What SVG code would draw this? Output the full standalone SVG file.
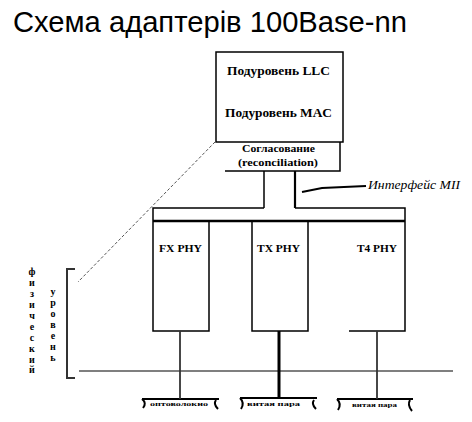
<svg xmlns="http://www.w3.org/2000/svg" width="472" height="422" viewBox="0 0 472 422">
<style>
.ln{fill:none;stroke:#000;stroke-width:1.5}
.b{font-family:"Liberation Serif","DejaVu Serif",serif;font-weight:bold;fill:#000}
.t{font-family:"Liberation Sans",Arial,sans-serif;fill:#000}
.ban{fill:none;stroke:#000;stroke-width:2}
</style>
<rect width="472" height="422" fill="#fff"/>
<text class="t" x="13" y="32" font-size="29" textLength="394" lengthAdjust="spacingAndGlyphs">Схема адаптерів 100Base-nn</text>

<g id="llc-mac">
<rect class="ln" x="216" y="52" width="127" height="90"/>
<text class="b" x="227" y="75" font-size="12" textLength="103" lengthAdjust="spacingAndGlyphs">Подуровень LLC</text>
<text class="b" x="225" y="117" font-size="12" textLength="107" lengthAdjust="spacingAndGlyphs">Подуровень MAC</text>
</g>
<g id="reconciliation">
<path class="ln" d="M340,142 V171 H225"/>
<text class="b" x="242" y="152" font-size="10" textLength="73" lengthAdjust="spacingAndGlyphs">Согласование</text>
<text class="b" x="238" y="166" font-size="10" textLength="80" lengthAdjust="spacingAndGlyphs">(reconciliation)</text>
</g>
<g id="mii">
<text x="368" y="189" font-family="Liberation Serif,serif" font-style="italic" font-size="12" textLength="92" lengthAdjust="spacingAndGlyphs">Интерфейс МІІ</text>
</g>
<g id="bus">
<path class="ln" d="M264,208 H153 V221 M295,208 H405 V221"/>
<line x1="153" y1="221" x2="405" y2="221" stroke="#000" stroke-width="2.5"/>
</g>
<g id="fx-phy">
<path class="ln" d="M153,221 V331 H209 V221"/>
<text class="b" x="159" y="252" font-size="11" textLength="43" lengthAdjust="spacingAndGlyphs">FX PHY</text>
</g>
<g id="tx-phy">
<path class="ln" d="M252,221 V331 H308 V221"/>
<text class="b" x="257" y="252" font-size="11" textLength="43" lengthAdjust="spacingAndGlyphs">TX PHY</text>
</g>
<g id="t4-phy">
<path class="ln" d="M405,221 V331 H349"/>
<text class="b" x="357" y="252" font-size="11" textLength="40" lengthAdjust="spacingAndGlyphs">T4 PHY</text>
</g>
<g id="physical-level">
<path d="M75,269 H67 V378 H75" fill="none" stroke="#333" stroke-width="2"/>
<text class="b" font-size="10" text-anchor="middle">
<tspan x="32" y="275">ф</tspan><tspan x="32" y="286">и</tspan><tspan x="32" y="297">з</tspan><tspan x="32" y="308">и</tspan><tspan x="32" y="319">ч</tspan><tspan x="32" y="330">е</tspan><tspan x="32" y="341">с</tspan><tspan x="32" y="352">к</tspan><tspan x="32" y="363">и</tspan><tspan x="32" y="373">й</tspan>
</text>
<text class="b" font-size="10" text-anchor="middle">
<tspan x="53" y="295">у</tspan><tspan x="53" y="306">р</tspan><tspan x="53" y="317">о</tspan><tspan x="53" y="328">в</tspan><tspan x="53" y="339">е</tspan><tspan x="53" y="350">н</tspan><tspan x="53" y="361">ь</tspan>
</text>
</g>
<g id="media-fiber">
<path class="ban" d="M142,399 H219 M142,399 Q147,403 143,408 M216,400 Q213,404 218,409"/>
<text class="b" x="150" y="406" font-size="7" textLength="58" lengthAdjust="spacingAndGlyphs">оптоволокно</text>
</g>
<g id="media-tp1">
<path class="ban" d="M240,398 H317 M240,398 Q245,403 241,409 M314,400 Q311,404 316,409"/>
<text class="b" x="247" y="406" font-size="7" textLength="53" lengthAdjust="spacingAndGlyphs">витая пара</text>
</g>
<g id="media-tp2">
<path class="ban" d="M337,399 H413 M337,399 Q342,404 338,410 M410,400 Q407,405 412,411"/>
<text class="b" x="352" y="407" font-size="7" textLength="45" lengthAdjust="spacingAndGlyphs">витая пара</text>
</g>
<g id="connectors">
<line x1="264" y1="171" x2="264" y2="208" stroke="#000" stroke-width="1.5"/>
<line x1="295" y1="171" x2="295" y2="208" stroke="#000" stroke-width="2.2"/>
<path d="M302,192 L322,188 L366,186" fill="none" stroke="#000" stroke-width="2"/>
<line x1="215" y1="142" x2="78" y2="282" stroke="#555" stroke-width="1" stroke-dasharray="3,2"/>
<line x1="79" y1="371" x2="453" y2="371" stroke="#000" stroke-width="1.2"/>
<line x1="180" y1="331" x2="180" y2="399" stroke="#333" stroke-width="1.8"/>
<line x1="279" y1="331" x2="279" y2="398" stroke="#000" stroke-width="3"/>
<line x1="377" y1="331" x2="377" y2="399" stroke="#333" stroke-width="1.8"/>
</g>
</svg>
